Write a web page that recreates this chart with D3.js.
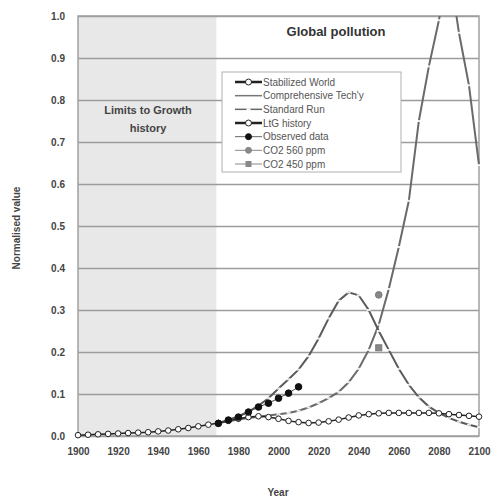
<!DOCTYPE html>
<html><head><meta charset="utf-8">
<script src="https://cdn.jsdelivr.net/npm/d3@7"></script>
<style>body{margin:0;background:#fff;} svg{display:block;font-family:"Liberation Sans",Arial,sans-serif;}</style>
</head><body><svg id="c" width="493" height="500"></svg>
<script>
// ---- data ----
const historyYears = [1900,1905,1910,1915,1920,1925,1930,1935,1940,1945,1950,1955,1960,1965,1970];
const historyVals  = [0.002,0.003,0.004,0.005,0.006,0.007,0.008,0.009,0.011,0.013,0.016,0.019,0.023,0.027,0.031];

const scenYears = [1970,1975,1980,1985,1990,1995,2000,2005,2010,2015,2020,2025,2030,2035,2040,2045,2050,2055,2060,2065,2070,2075,2080,2085,2090,2095,2100];
const stabilizedVals = [0.031,0.036,0.041,0.045,0.047,0.045,0.041,0.036,0.033,0.031,0.032,0.035,0.039,0.044,0.049,0.052,0.054,0.055,0.055,0.055,0.055,0.055,0.054,0.052,0.050,0.048,0.046];
const comprehensiveVals = [0.031,0.035,0.039,0.043,0.046,0.049,0.052,0.055,0.060,0.068,0.078,0.090,0.105,0.128,0.160,0.205,0.265,0.350,0.450,0.560,0.750,0.880,0.990,1.120,0.960,0.835,0.645];
const standardVals = [0.031,0.038,0.047,0.058,0.072,0.090,0.113,0.135,0.158,0.190,0.232,0.280,0.322,0.342,0.335,0.300,0.250,0.205,0.160,0.122,0.092,0.070,0.055,0.043,0.034,0.027,0.021];

const observedYears = [1970,1975,1980,1985,1990,1995,2000,2005,2010];
const observedVals  = [0.030,0.038,0.045,0.057,0.069,0.078,0.090,0.102,0.117];

const co2Years = [2050];
const co2_560 = [0.336];
const co2_450 = [0.210];

const legendLabels = ["Stabilized World","Comprehensive Tech'y","Standard Run","LtG history","Observed data","CO2 560 ppm","CO2 450 ppm"];
const xTicks = [1900,1920,1940,1960,1980,2000,2020,2040,2060,2080,2100];
const yTicks = [0,0.1,0.2,0.3,0.4,0.5,0.6,0.7,0.8,0.9,1.0];

// ---- chart ----
const svg = d3.select("#c");
const x = d3.scaleLinear().domain([1900,2100]).range([78,479]);
const y = d3.scaleLinear().domain([0,1]).range([436,16]);

svg.append("defs").append("clipPath").attr("id","clip")
  .append("rect").attr("x",x(1900)-5).attr("y",y(1)).attr("width",x(2100)-x(1900)+10).attr("height",y(0)-y(1)+6);

// shaded history region
svg.append("rect").attr("x",x(1900)).attr("y",y(1)).attr("width",x(1969)-x(1900)).attr("height",y(0)-y(1)).attr("fill","#e8e8e8");

// gridlines
svg.append("g").selectAll("line").data(yTicks).join("line")
  .attr("x1",x(1900)).attr("x2",x(2100))
  .attr("y1",d=>Math.round(y(d))+0.5).attr("y2",d=>Math.round(y(d))+0.5)
  .style("stroke","#9c9c9c").style("stroke-width","1.5px");

// border
svg.append("rect").attr("x",x(1900)).attr("y",y(1)).attr("width",x(2100)-x(1900)).attr("height",y(0)-y(1))
  .style("fill","none").style("stroke","#a0a0a0").style("stroke-width","1.5px");

// axes
const xAxis = svg.append("g").attr("transform",`translate(0,${y(0)})`)
  .call(d3.axisBottom(x).tickValues(xTicks).tickFormat(d3.format("d")).tickSize(0).tickPadding(12));
const yAxis = svg.append("g").attr("transform",`translate(${x(1900)},0)`)
  .call(d3.axisLeft(y).tickValues(yTicks).tickFormat(d3.format(".1f")).tickSize(0).tickPadding(13));
[xAxis,yAxis].forEach(a=>{
  a.select(".domain").remove();
  a.selectAll("text").attr("font-size",10).attr("font-weight","bold").attr("fill","#444")
   .attr("font-family","'Liberation Sans',Arial,sans-serif");
});

// axis titles
svg.append("text").attr("x",278).attr("y",496).attr("text-anchor","middle")
  .attr("font-size",10).attr("font-weight","bold").attr("fill","#444").text("Year");
svg.append("text").attr("transform","translate(20,228) rotate(-90)").attr("text-anchor","middle")
  .attr("font-size",10).attr("font-weight","bold").attr("fill","#444").text("Normalised value");

// annotations
svg.append("text").attr("x",336).attr("y",36).attr("text-anchor","middle")
  .attr("font-size",13).attr("font-weight","bold").attr("fill","#333").text("Global pollution");
svg.append("text").attr("x",148).attr("y",114).attr("text-anchor","middle")
  .attr("font-size",11).attr("font-weight","bold").attr("fill","#444").text("Limits to Growth");
svg.append("text").attr("x",148).attr("y",132).attr("text-anchor","middle")
  .attr("font-size",11).attr("font-weight","bold").attr("fill","#444").text("history");

const plot = svg.append("g").attr("clip-path","url(#clip)");
const line = d3.line().x(d=>x(d[0])).y(d=>y(d[1]));
const zip = (a,b)=>a.map((v,i)=>[v,b[i]]);

function series(years, vals, o){
  const data = zip(years, vals);
  plot.append("path").datum(data).attr("d",line).attr("fill","none")
    .attr("stroke",o.stroke).attr("stroke-width",o.width);
  const g = plot.append("g");
  if(o.marker==="circle"){
    g.selectAll("circle").data(data).join("circle").attr("cx",d=>x(d[0])).attr("cy",d=>y(d[1]))
      .attr("r",o.r).attr("fill",o.fill).attr("stroke",o.mstroke).attr("stroke-width",o.mw||1);
  } else if(o.marker==="dash"){
    g.selectAll("rect").data(data).join("rect").attr("x",d=>x(d[0])-2).attr("y",d=>y(d[1])-1)
      .attr("width",4).attr("height",2).attr("fill","#fff").attr("opacity",0.85);
  } else if(o.marker==="square"){
    g.selectAll("rect").data(data).join("rect").attr("x",d=>x(d[0])-o.r).attr("y",d=>y(d[1])-o.r)
      .attr("width",2*o.r).attr("height",2*o.r).attr("fill",o.fill).attr("stroke",o.mstroke);
  }
}

series(scenYears, comprehensiveVals, {stroke:"#6a6a6a", width:2, marker:"dash"});
series(scenYears, standardVals, {stroke:"#5a5a5a", width:2, marker:"dash"});
series(scenYears, stabilizedVals, {stroke:"#222", width:1.5, marker:"circle", r:2.8, fill:"#fff", mstroke:"#222"});
series(historyYears, historyVals, {stroke:"#222", width:1.5, marker:"circle", r:2.8, fill:"#fff", mstroke:"#222"});
series(observedYears, observedVals, {stroke:"#444", width:1, marker:"circle", r:3.3, fill:"#111", mstroke:"#111"});
series(co2Years, co2_560, {stroke:"#888", width:1, marker:"circle", r:3.3, fill:"#888", mstroke:"#777"});
series(co2Years, co2_450, {stroke:"#888", width:1, marker:"square", r:3, fill:"#888", mstroke:"#777"});

// legend
const lg = svg.append("g");
lg.append("rect").attr("x",222).attr("y",72).attr("width",179).attr("height",100)
  .attr("fill","#fff").attr("stroke","#b0b0b0").attr("stroke-width",1);
const ly = d3.scalePoint().domain(legendLabels).range([82,164]);
const styles = [
  {stroke:"#222", w:2.5, m:"circle", fill:"#fff", ms:"#222"},
  {stroke:"#777", w:1.5, m:"none"},
  {stroke:"#666", w:1.5, m:"dash"},
  {stroke:"#222", w:2.5, m:"circle", fill:"#fff", ms:"#222"},
  {stroke:"#666", w:1, m:"circle", fill:"#111", ms:"#111"},
  {stroke:"#888", w:1, m:"circle", fill:"#888", ms:"#888"},
  {stroke:"#888", w:1, m:"square", fill:"#888", ms:"#888"}
];
legendLabels.forEach((lab,i)=>{
  const yy = ly(lab), s = styles[i];
  lg.append("line").attr("x1",235).attr("x2",262).attr("y1",yy).attr("y2",yy)
    .attr("stroke",s.stroke).attr("stroke-width",s.w);
  if(s.m==="circle") lg.append("circle").attr("cx",248.5).attr("cy",yy).attr("r",3).attr("fill",s.fill).attr("stroke",s.ms);
  if(s.m==="square") lg.append("rect").attr("x",245.5).attr("y",yy-3).attr("width",6).attr("height",6).attr("fill",s.fill);
  if(s.m==="dash") lg.append("rect").attr("x",246.5).attr("y",yy-1).attr("width",4).attr("height",2).attr("fill","#fff");
  lg.append("text").attr("x",263).attr("y",yy+3.5).attr("font-size",10).attr("fill","#555").text(lab);
});
</script></body></html>
